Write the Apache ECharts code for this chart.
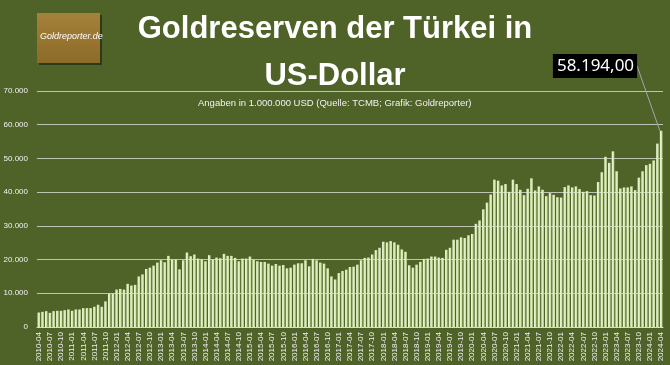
<!DOCTYPE html>
<html><head><meta charset="utf-8">
<script src="https://cdn.jsdelivr.net/npm/echarts@6/dist/echarts.min.js"></script>
<style>html,body{margin:0;padding:0;background:#4f6228;}#c{width:670px;height:365px;}</style>
</head><body><div id="c"></div>
<script>
const categories = [
'2010-04','2010-05','2010-06','2010-07','2010-08','2010-09','2010-10','2010-11','2010-12',
'2011-01','2011-02','2011-03','2011-04','2011-05','2011-06','2011-07','2011-08','2011-09','2011-10','2011-11','2011-12',
'2012-01','2012-02','2012-03','2012-04','2012-05','2012-06','2012-07','2012-08','2012-09','2012-10','2012-11','2012-12',
'2013-01','2013-02','2013-03','2013-04','2013-05','2013-06','2013-07','2013-08','2013-09','2013-10','2013-11','2013-12',
'2014-01','2014-02','2014-03','2014-04','2014-05','2014-06','2014-07','2014-08','2014-09','2014-10','2014-11','2014-12',
'2015-01','2015-02','2015-03','2015-04','2015-05','2015-06','2015-07','2015-08','2015-09','2015-10','2015-11','2015-12',
'2016-01','2016-02','2016-03','2016-04','2016-05','2016-06','2016-07','2016-08','2016-09','2016-10','2016-11','2016-12',
'2017-01','2017-02','2017-03','2017-04','2017-05','2017-06','2017-07','2017-08','2017-09','2017-10','2017-11','2017-12',
'2018-01','2018-02','2018-03','2018-04','2018-05','2018-06','2018-07','2018-08','2018-09','2018-10','2018-11','2018-12',
'2019-01','2019-02','2019-03','2019-04','2019-05','2019-06','2019-07','2019-08','2019-09','2019-10','2019-11','2019-12',
'2020-01','2020-02','2020-03','2020-04','2020-05','2020-06','2020-07','2020-08','2020-09','2020-10','2020-11','2020-12',
'2021-01','2021-02','2021-03','2021-04','2021-05','2021-06','2021-07','2021-08','2021-09','2021-10','2021-11','2021-12',
'2022-01','2022-02','2022-03','2022-04','2022-05','2022-06','2022-07','2022-08','2022-09','2022-10','2022-11','2022-12',
'2023-01','2023-02','2023-03','2023-04','2023-05','2023-06','2023-07','2023-08','2023-09','2023-10','2023-11','2023-12',
'2024-01','2024-02','2024-03','2024-04'
];
const goldReserves = [
4300,4500,4700,4200,4700,4800,4800,5000,5200,
4800,5200,5200,5600,5600,5600,6000,6600,6000,7600,9900,9900,
11100,11300,11100,12800,12300,12500,15000,15600,17200,17600,18200,19100,
19800,19200,21100,20000,20000,17100,19800,22100,21000,21500,20300,20100,
19500,21300,20000,20600,20400,21700,21100,21100,20500,19500,20300,20300,
20900,19900,19500,19300,19300,18800,18200,18700,18200,18400,17400,17600,
18500,18900,18900,19800,18000,20200,19800,19100,18800,17400,15000,14100,
16000,16600,17000,17800,17900,18500,19800,20500,20600,21500,22800,23500,
25300,25100,25500,25100,24400,23000,22300,18300,17600,18500,19300,20200,
20300,20900,20900,20600,20500,22900,23500,25900,25900,26600,26400,27200,
27600,30600,31600,34900,36900,39300,43700,43400,42000,42400,40100,43700,
42400,40700,39100,41000,44100,40500,41700,40700,38800,39700,39200,38500,
38400,41500,42000,41400,41700,40900,40100,40300,39100,39000,43000,45900,
50500,48700,52100,46200,41100,41400,41400,41700,40600,44300,46200,48000,
48400,49400,54400,58194
];
const yTicks = [0,10000,20000,30000,40000,50000,60000,70000];
const titleLines = ['Goldreserven der Türkei in','US-Dollar'];
const subtitle = 'Angaben in 1.000.000 USD (Quelle: TCMB; Grafik: Goldreporter)';

function de(v, dec){
  const s = Math.floor(Math.abs(v)).toString().replace(/\B(?=(\d{3})+(?!\d))/g,'.');
  if (!dec) return s;
  const frac = (Math.abs(v) % 1).toFixed(dec).slice(2);
  return s + ',' + frac;
}

const lastIdx = goldReserves.length - 1;
const seriesData = goldReserves.map((v,i)=>{
  if (i !== lastIdx) return v;
  return {value:v, label:{show:true, position:'top', formatter:p=>de(p.value,2),
    color:'#ffffff', backgroundColor:'#000000', fontFamily:'Noto Sans', fontSize:17,
    padding:[4,3,3,4]}, labelLine:{show:true, lineStyle:{color:'#a6a6a6', width:1}}};
});

const chart = echarts.init(document.getElementById('c'), null, {renderer:'canvas'});
chart.setOption({
  backgroundColor:'#4f6228',
  animation:false,
  grid:{left:37, right:7, top:91, bottom:38, containLabel:false},
  xAxis:{type:'category', data:categories, boundaryGap:true,
    axisLine:{show:true, lineStyle:{color:'#d9d9d9', width:1}},
    axisTick:{show:false},
    axisLabel:{interval:2, rotate:90, color:'#f2f2f2', fontSize:8, fontFamily:'Liberation Sans', margin:5}},
  yAxis:{type:'value', min:yTicks[0], max:yTicks[yTicks.length-1], interval:10000,
    axisLine:{show:false}, axisTick:{show:false},
    splitLine:{lineStyle:{color:'#bfc3b5', width:1}},
    axisLabel:{color:'#f2f2f2', fontSize:8, fontFamily:'Liberation Sans', margin:9, formatter:v=>de(v,0)}},
  series:[{type:'bar', data:seriesData, barCategoryGap:'32%',
    itemStyle:{color:new echarts.graphic.LinearGradient(0,0,1,0,[{offset:0,color:'#f4fbe4'},{offset:1,color:'#bedc8c'}])},
    labelLayout:function(p){ if(p.dataIndex===lastIdx) return {x:595, y:66, align:'center', verticalAlign:'middle'}; return {}; }
  }],
  graphic:[
    {type:'rect', shape:{x:39, y:15, width:63, height:50}, style:{fill:'#2e3a17'}},
    {type:'rect', shape:{x:37, y:13, width:63, height:50},
      style:{fill:new echarts.graphic.LinearGradient(0,0,0,1,[{offset:0,color:'#a5823a'},{offset:1,color:'#8c6a28'}])}},
    {type:'text', left:40, top:32, style:{text:'Goldreporter.de', fill:'#ffffff', font:'italic 9px "Liberation Sans"'}},
    {type:'text', left:'center', top:14, style:{text:titleLines[0], fill:'#ffffff', font:'bold 31px "Liberation Sans"'}},
    {type:'text', left:'center', top:61, style:{text:titleLines[1], fill:'#ffffff', font:'bold 31px "Liberation Sans"'}},
    {type:'text', left:198, top:98, style:{text:subtitle, fill:'#f2f2f2', font:'9.5px "Liberation Sans"'}}
  ]
});
</script></body></html>
